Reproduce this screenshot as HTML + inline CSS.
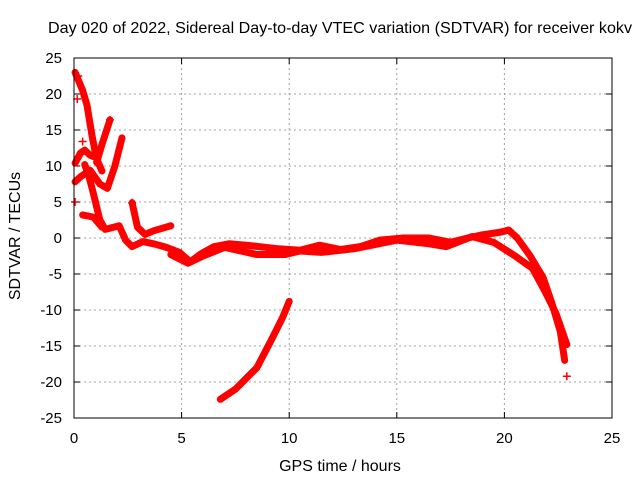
<!DOCTYPE html>
<html><head><meta charset="utf-8"><style>
body{margin:0;background:#fff}
svg text{font-family:"Liberation Sans",sans-serif;fill:#000}
</style></head><body>
<svg id="chart" width="640" height="480" xmlns="http://www.w3.org/2000/svg">
<rect width="640" height="480" fill="#fff"/>
<text x="340" y="33" font-size="16" text-anchor="middle" textLength="584" lengthAdjust="spacingAndGlyphs">Day 020 of 2022, Sidereal Day-to-day VTEC variation (SDTVAR) for receiver kokv</text>
<g id="grid"></g>
<g id="ticks"></g>
<g id="series"></g>
<rect x="74" y="58" width="538" height="360" fill="none" stroke="#000" stroke-width="1"/>
<text x="340" y="471" font-size="16" text-anchor="middle">GPS time / hours</text>
<text transform="translate(20,236) rotate(-90)" font-size="16" text-anchor="middle">SDTVAR / TECUs</text>
</svg>
<script>
const xTicks=[0,5,10,15,20,25];
const yTicks=[25,20,15,10,5,0,-5,-10,-15,-20,-25];
const sA=[[0.05,23],[0.4,20.5],[0.6,18.5],[0.85,14],[1.05,11],[1.3,9.3]];
const sB=[[1.05,10.5],[1.3,13],[1.67,16.4]];
const sC=[[0.05,10.4],[0.3,11.8],[0.5,12.2],[0.75,11.5],[1.0,11.2]];
const sD=[[0.5,10.2],[0.7,8.5],[0.9,6.2],[1.2,2.5],[1.45,1.2],[2.1,1.7],[2.4,-0.3],[2.7,-1.2],[3.2,-0.5],[3.7,-0.8],[4.3,-1.3]];
const sE=[[0.05,7.8],[0.3,8.5],[0.75,9.4],[1.2,7.5],[1.55,6.9],[1.9,10],[2.23,13.9]];
const sF=[[0.4,3.2],[0.9,2.9],[1.3,1.5]];
const sG=[[2.7,4.9],[2.95,1.5],[3.3,0.5],[3.7,1],[4.5,1.7]];
const sMain=[[4.3,-1.3],[4.9,-2],[5.4,-3.3],[5.9,-2.2],[6.5,-1.2],[7.2,-0.8],[8,-1],[8.6,-1.2],[9.5,-1.5],[10.5,-1.7],[11.4,-1],[12.4,-1.6],[13.3,-1.2],[14.2,-0.3],[15.3,0],[16.5,0],[17.5,-0.6],[18.3,0],[18.9,0.4],[19.8,0.8],[20.2,1.1]];
const sLow=[[4.5,-2.3],[5.3,-3.5],[6,-2.5],[7,-1.3],[8.5,-2.3],[9.8,-2.3],[10.5,-1.8],[11.5,-2],[13,-1.5],[15,-0.3],[16.5,-0.8],[17.3,-1.2],[18.5,0.2],[19.5,-0.6]];
const sEnd1=[[19.5,-0.6],[20.5,-2.5],[21.3,-4.2],[21.9,-7.5],[22.4,-10.5],[22.9,-14.8]];
const sEnd2=[[20.2,1.1],[20.6,0],[21.2,-2.5],[21.8,-5.5],[22.2,-9],[22.6,-13],[22.8,-17]];
const sArc=[[6.8,-22.4],[7.5,-21],[8.5,-18],[9.2,-14],[9.7,-11],[10,-8.8]];
const singles=[[0.05,5],[0.15,19.3],[0.2,22.5],[1.67,16.4],[2.7,4.9],[22.9,-19.2],[0.4,13.4]];
const allSeries=[sA,sB,sC,sD,sE,sF,sG,sMain,sLow,sEnd1,sEnd2,sArc];
const X=t=>74+t*21.52, Y=v=>238-v*7.2;
const NS="http://www.w3.org/2000/svg";
const grid=document.getElementById('grid'),ticks=document.getElementById('ticks'),ser=document.getElementById('series');
function mk(tag,at,parent){const e=document.createElementNS(NS,tag);for(const k in at)e.setAttribute(k,at[k]);parent.appendChild(e);return e;}
xTicks.forEach(t=>{
  if(t>0&&t<25){const g=mk('line',{x1:X(t),x2:X(t),y1:58,y2:418,stroke:'#a0a0a0','stroke-dasharray':'2,3'},grid);
  
  }
  const l=mk('text',{x:X(t),y:443,'font-size':15,'text-anchor':'middle'},ticks);l.textContent=t;
  
  
  mk('line',{x1:X(t),x2:X(t),y1:418,y2:412,stroke:'#000'},ticks);
  mk('line',{x1:X(t),x2:X(t),y1:58,y2:64,stroke:'#000'},ticks);
});
yTicks.forEach(v=>{
  if(v>-25&&v<25){const g=mk('line',{x1:74,x2:612,y1:Y(v),y2:Y(v),stroke:'#a0a0a0','stroke-dasharray':'2,3'},grid);
  
  }
  const l=mk('text',{x:62,y:Y(v)+5,'font-size':15,'text-anchor':'end'},ticks);l.textContent=v;
  
  
  mk('line',{x1:74,x2:80,y1:Y(v),y2:Y(v),stroke:'#000'},ticks);
  mk('line',{x1:612,x2:606,y1:Y(v),y2:Y(v),stroke:'#000'},ticks);
});
allSeries.forEach(s=>{
  const p=mk('polyline',{points:s.map(d=>X(d[0])+','+Y(d[1])).join(' '),fill:'none',stroke:'#f00','stroke-width':7,'stroke-linejoin':'round','stroke-linecap':'round'},ser);
  
  
});
singles.forEach(d=>{
  const x=X(d[0]),y=Y(d[1]);
  const m=mk('path',{d:`M${x-4},${y}H${x+4}M${x},${y-4}V${y+4}`,stroke:'#f00','stroke-width':1.5},ser);
  
  
});
</script>
</body></html>
